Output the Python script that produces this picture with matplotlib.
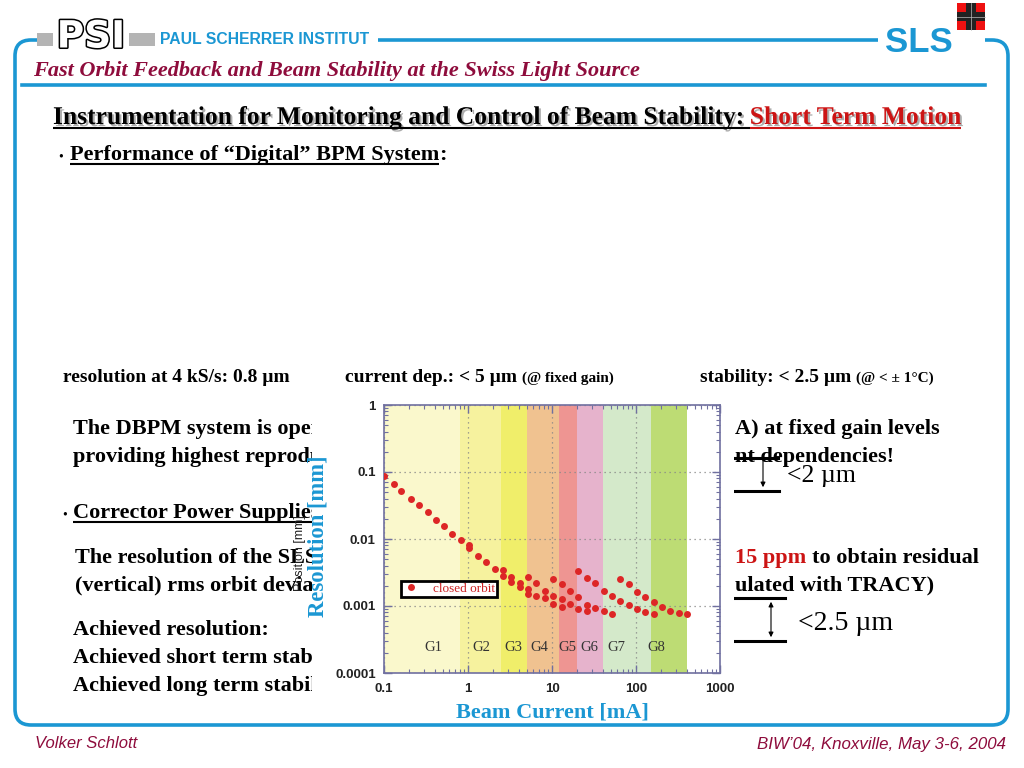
import matplotlib
matplotlib.use("Agg")
import matplotlib.pyplot as plt
import matplotlib.patheffects as pe
from matplotlib.patches import Rectangle, FancyBboxPatch
from matplotlib.ticker import FuncFormatter, LogLocator, NullFormatter
import numpy as np

# Chart data (beam current [mA], resolution [mm])
current = [0.10, 0.13, 0.161, 0.211, 0.261, 0.337, 0.412, 0.518, 0.65, 0.818,
           1.03, 1.03, 1.30, 1.64, 2.08, 2.61, 2.61, 3.28, 3.28, 4.12, 4.12,
           5.18, 5.18, 5.18, 6.5, 6.5, 8.2, 8.2, 10.3, 10.3, 10.3,
           13.0, 13.0, 13.0, 16.4, 16.4, 20.6, 20.6, 20.6,
           25.9, 25.9, 25.9, 32.5, 32.5, 41.2, 41.2, 51.8, 51.8,
           65.0, 65.0, 82.0, 82.0, 103, 103, 129, 129, 164, 164,
           205, 257, 324, 407]
resolution = [0.087, 0.067, 0.0526, 0.040, 0.032, 0.025, 0.0194, 0.0155, 0.012, 0.0097,
              0.0080, 0.0073, 0.0056, 0.0045, 0.0036, 0.0034, 0.0028, 0.0027, 0.0023, 0.0022, 0.0019,
              0.0027, 0.0018, 0.0015, 0.0022, 0.0014, 0.0017, 0.0013, 0.0025, 0.0014, 0.00108,
              0.0021, 0.00126, 0.00098, 0.00168, 0.00108, 0.0033, 0.00138, 0.00091,
              0.00265, 0.00103, 0.00083, 0.0022, 0.00094, 0.00168, 0.00083, 0.00142, 0.00075,
              0.0025, 0.00119, 0.0021, 0.00103, 0.00164, 0.00089, 0.00138, 0.00081, 0.00115, 0.00075,
              0.00097, 0.00085, 0.00078, 0.00075]

# gain level bands
gain_names = ["G1", "G2", "G3", "G4", "G5", "G6", "G7", "G8"]
gain_edges = [0.1, 0.8, 2.5, 5, 12, 20, 40, 150, 400]
gain_label_x = [0.39, 1.44, 3.5, 7.1, 15.4, 28, 58, 176]
gain_colors = ["#faf8cc", "#f6f29e", "#f0ee6a", "#f0c290", "#ee9592",
               "#e6b3cc", "#d4e9ca", "#bddc74"]

xticks = [0.1, 1, 10, 100, 1000]
yticks = [1, 0.1, 0.01, 0.001, 0.0001]

BLUE = "#1b97d3"
MAROON = "#8e0c3c"
RED = "#cc1414"

fig = plt.figure(figsize=(10.24, 7.68), dpi=100)
bg = fig.add_axes([0, 0, 1, 1], zorder=0)
bg.set_xlim(0, 1024)
bg.set_ylim(768, 0)
bg.axis("off")
renderer = fig.canvas.get_renderer()

serif = "Liberation Serif"
sans = "Liberation Sans"


def place(x, y, pieces, underline=False, ul_off=3.5, **common):
    # put text pieces one after another on the same baseline
    for s, kw in pieces:
        opts = dict(common)
        opts.update(kw)
        t = bg.text(x, y, s, ha="left", va="baseline", **opts)
        bb = t.get_window_extent(renderer)
        if underline:
            bg.plot([x, x + bb.width], [y + ul_off, y + ul_off],
                    color=opts.get("color", "black"), lw=1.5, zorder=3,
                    solid_capstyle="butt")
        x += bb.width
    return x


# ---- slide frame ----
frame = FancyBboxPatch((15, 40), 993, 685, boxstyle="round,pad=0,rounding_size=16",
                       fill=False, ec=BLUE, lw=2.6, zorder=12)
bg.add_patch(frame)
bg.add_patch(Rectangle((38, 30), 340, 20, fc="white", ec="none", zorder=12.5))
bg.add_patch(Rectangle((878, 30), 107, 20, fc="white", ec="none", zorder=12.5))
bg.plot([22, 985], [85, 85], color=BLUE, lw=2.6, zorder=1)

# PSI logo
bg.add_patch(Rectangle((37, 33), 118, 13, fc="#b4b4b4", ec="none", zorder=13))
bg.add_patch(Rectangle((53, 24), 76, 26, fc="white", ec="none", zorder=13.2))
bg.text(91, 37.5, "PSI", ha="center", va="center", fontsize=27, fontweight="bold",
        family="DejaVu Sans", color="white", zorder=14,
        path_effects=[pe.withStroke(linewidth=2.2, foreground="black")])
bg.text(160, 39, "PAUL SCHERRER INSTITUT", ha="left", va="center", fontsize=11.3,
        fontweight="bold", family=sans, color=BLUE, zorder=14)

# SLS logo
bg.text(919, 42, "SLS", ha="center", va="center", fontsize=25, fontweight="bold",
        family=sans, color=BLUE, zorder=14)
bg.add_patch(Rectangle((957, 3), 28, 27, fc="#ee1111", ec="none", zorder=13))
bg.add_patch(Rectangle((966, 3), 10, 27, fc="#222222", ec="none", zorder=13.1))
bg.add_patch(Rectangle((957, 12), 28, 9, fc="#222222", ec="none", zorder=13.1))
bg.plot([971, 971], [3, 30], color="#bbbbbb", lw=0.5, zorder=13.2)
bg.plot([957, 985], [16.5, 16.5], color="#bbbbbb", lw=0.5, zorder=13.2)

bg.text(33, 76, "Fast Orbit Feedback and Beam Stability at the Swiss Light Source",
        ha="left", va="baseline", fontsize=16, fontweight="bold", style="italic",
        family=serif, color=MAROON)

# ---- headline ----
shadow = [pe.withSimplePatchShadow(offset=(1.5, -1.5), shadow_rgbFace="#999999", alpha=0.8)]
place(53, 124, [("Instrumentation for Monitoring and Control of Beam Stability: ", {"color": "black"}),
                ("Short Term Motion", {"color": RED})],
      underline=True, ul_off=3.5, fontsize=18.4, fontweight="bold", family=serif,
      path_effects=shadow)

bg.text(58, 160, "\u2022", ha="left", va="baseline", fontsize=10, family=serif)
xe = place(70, 160, [("Performance of \u201cDigital\u201d BPM System", {})], underline=True,
           fontsize=16, fontweight="bold", family=serif, color="black")
place(xe, 160, [(":", {})], fontsize=16, fontweight="bold", family=serif)

# row of numbers
place(63, 382, [("resolution at 4 kS/s: 0.8 \u00b5m", {})],
      fontsize=14, fontweight="bold", family=serif)
place(345, 382, [("current dep.: < 5 \u00b5m ", {}), ("(@ fixed gain)", {"fontsize": 11})],
      fontsize=14, fontweight="bold", family=serif)
place(700, 382, [("stability: < 2.5 \u00b5m ", {}), ("(@ < \u00b1 1\u00b0C)", {"fontsize": 11})],
      fontsize=14, fontweight="bold", family=serif)

body = dict(fontsize=16, fontweight="bold", family=serif, color="black")
bg.text(73, 434, "The DBPM system is operated", ha="left", va="baseline", **body)
bg.text(73, 462, "providing highest reproducibility", ha="left", va="baseline", **body)
bg.text(735, 434, "A) at fixed gain levels", ha="left", va="baseline", **body)
bg.text(735, 462, "nt dependencies!", ha="left", va="baseline", **body)

bg.text(62, 518, "\u2022", ha="left", va="baseline", fontsize=10, family=serif)
place(73, 518, [("Corrector Power Supplies", {})], underline=True, **body)

bg.text(75, 563, "The resolution of the SLS", ha="left", va="baseline", **body)
bg.text(75, 590, "(vertical) rms orbit deviations", ha="left", va="baseline", **body)
place(735, 563, [("15 ppm ", {"color": RED}), ("to obtain residual", {})], **body)
bg.text(735, 590, "ulated with TRACY)", ha="left", va="baseline", **body)

bg.text(73, 635, "Achieved resolution:", ha="left", va="baseline", **body)
bg.text(73, 663, "Achieved short term stability", ha="left", va="baseline", **body)
bg.text(73, 691, "Achieved long term stability", ha="left", va="baseline", **body)

# annotation bars
bg.plot([735, 778], [458, 458], color="black", lw=2.2, zorder=4)
bg.plot([735, 779], [491, 491], color="black", lw=2.2, zorder=4)
bg.annotate("", xy=(763, 490), xytext=(763, 458),
            arrowprops=dict(arrowstyle="-|>", lw=0.8, color="black", mutation_scale=7))
bg.text(787, 476, "<2 \u00b5m", ha="left", va="center", fontsize=18.5, family=serif)
bg.plot([735, 785], [598, 598], color="black", lw=2.2, zorder=4)
bg.plot([735, 785], [641, 641], color="black", lw=2.2, zorder=4)
bg.annotate("", xy=(771, 640), xytext=(771, 599),
            arrowprops=dict(arrowstyle="<|-|>", lw=0.8, color="black", mutation_scale=7))
bg.text(798, 624, "<2.5 \u00b5m", ha="left", va="center", fontsize=20, family=serif)

# footer
bg.text(35, 744, "Volker Schlott", ha="left", va="center", fontsize=12, style="italic",
        family=sans, color=MAROON)
bg.text(1006, 744, "BIW\u201904, Knoxville, May 3-6, 2004", ha="right", va="center",
        fontsize=12.2, style="italic", family=sans, color=MAROON)

# white area of the pasted chart
bg.add_patch(Rectangle((312, 393), 422, 331, fc="white", ec="none", zorder=10))
bg.text(318, 536, "Resolution [mm]", rotation=90, ha="center", va="center", fontsize=16.3,
        fontweight="bold", family=serif, color=BLUE, zorder=11)
bg.text(300, 553, "Position [mm]", rotation=90, ha="center", va="center", fontsize=9,
        family=sans, color="#222222", zorder=11)
bg.text(552, 713, "Beam Current [mA]", ha="center", va="center", fontsize=16,
        fontweight="bold", family=serif, color=BLUE, zorder=11)

# ---- chart ----
ax = fig.add_axes([384 / 1024, 95 / 768, 336 / 1024, 268 / 768], zorder=2)
ax.set_xscale("log")
ax.set_yscale("log")
ax.set_xlim(0.1, 1000)
ax.set_ylim(0.0001, 1)
for i in range(len(gain_names)):
    ax.axvspan(gain_edges[i], gain_edges[i + 1], color=gain_colors[i], lw=0, zorder=0.5)
    ax.text(gain_label_x[i], 0.00024, gain_names[i], ha="center", va="center",
            fontsize=10.5, family=serif, color="#333333")
ax.grid(True, which="major", color="#888888", ls=(0, (1, 3)), lw=0.9)
ax.plot(current, resolution, "o", color="#dd2626", ms=5, mec="none", label="closed orbit", zorder=3)

ax.set_xticks(xticks)
ax.set_yticks(yticks)
fmt = FuncFormatter(lambda v, p: f"{v:g}")
ax.xaxis.set_major_formatter(fmt)
ax.yaxis.set_major_formatter(fmt)
ax.xaxis.set_minor_locator(LogLocator(base=10, subs=np.arange(2, 10), numticks=20))
ax.yaxis.set_minor_locator(LogLocator(base=10, subs=np.arange(2, 10), numticks=20))
ax.xaxis.set_minor_formatter(NullFormatter())
ax.yaxis.set_minor_formatter(NullFormatter())
ax.tick_params(which="both", direction="in", top=True, right=True, color="#7070a0")
ax.tick_params(which="major", length=6, width=1, labelsize=9.5)
ax.tick_params(axis="x", which="major", pad=7)
ax.tick_params(axis="y", which="major", pad=6)
ax.tick_params(which="minor", length=3, width=0.8)
for lab in ax.get_xticklabels() + ax.get_yticklabels():
    lab.set_fontweight("bold")
    lab.set_family(sans)
    lab.set_color("#222222")
for sp in ax.spines.values():
    sp.set_color("#7070a0")
    sp.set_linewidth(1.2)

leg = ax.legend(loc="lower left", bbox_to_anchor=(0.05, 0.284), borderaxespad=0,
                fancybox=False, edgecolor="black", framealpha=1, borderpad=0.15,
                handletextpad=1.0, handlelength=1.3, prop={"family": serif, "size": 9.5},
                labelcolor="#cc2222")
leg.get_frame().set_linewidth(2)

fig.savefig("out.png", dpi=100)
